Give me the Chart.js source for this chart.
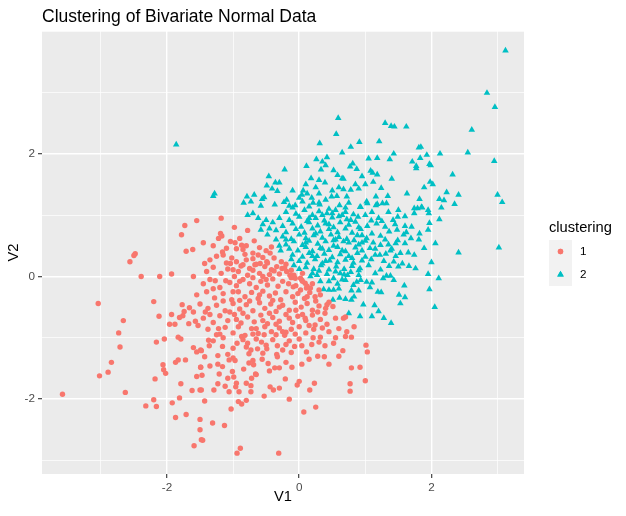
<!DOCTYPE html>
<html>
<head>
<meta charset="utf-8">
<script src="https://cdn.jsdelivr.net/npm/chart.js@4.4.1/dist/chart.umd.min.js"></script>
<style>
html, body { margin: 0; padding: 0; background: #fff; }
canvas { display: block; }
</style>
</head>
<body>
<canvas id="canvas" width="626" height="516"></canvas>
<script>
var chartTitle = "Clustering of Bivariate Normal Data";
var xTitle = "V1";
var yTitle = "V2";
var legendTitle = "clustering";
var clusterNames = ["1", "2"];
var clusterColors = ["#F8766D", "#00BFC4"];
var xTickLabels = [-2, 0, 2];
var yTickLabels = [-2, 0, 2];

// cluster 1 (V1, V2)
var cluster1 = [
	[-1.55,0.91],[-1.73,0.83],[-1.78,0.68],[-1.61,0.44],[-1.71,0.41],[-2.48,0.37],[-2.50,0.34],[-2.56,0.24],
	[-2.39,0.0],[-2.11,0.0],[-1.93,0.04],[-1.60,0.0],[-3.04,-0.44],[-2.20,-0.41],[-2.66,-0.72],[-2.12,-0.65],
	[-1.77,-0.46],[-1.66,-0.51],[-1.74,-0.57],[-1.60,-0.58],[-1.93,-0.62],[-1.76,-0.64],[-1.81,-0.67],[-1.96,-0.78],
	[-1.88,-0.78],[-1.67,-0.77],[-1.57,-0.73],[-1.53,-0.80],
	[-2.73,-0.92],[-2.71,-1.15],[-2.16,-1.07],[-2.04,-1.02],[-1.83,-0.99],[-1.79,-1.02],[-1.60,-1.16],[-1.55,-1.23],
	[-1.49,-1.20],[-2.84,-1.40],[-2.89,-1.56],[-3.02,-1.62],[-3.58,-1.92],[-2.63,-1.89],[-2.06,-1.44],[-2.05,-1.52],
	[-2.02,-1.58],[-2.18,-1.67],[-1.87,-1.40],[-1.83,-1.36],[-1.72,-1.36],[-1.79,-1.75],[-1.55,-1.63],[-1.62,-1.86],
	[-1.50,-1.85],[-1.49,-1.48],[-1.81,-1.98],[-1.92,-2.06],[-2.20,-2.01],[-2.32,-2.11],[-2.16,-2.12],[-1.87,-2.30],
	[-1.71,-2.25],[-1.50,-2.33],[-1.50,-2.50],[-1.59,-2.76],[-1.48,-2.66],
	[-1.43,-2.03],[-1.03,-2.16],[-1.31,-2.39],[-1.13,-2.43],[-1.46,-2.67],[-0.89,-2.80],[-0.94,-2.88],[-0.31,-2.88],
	[0.07,-2.21],[0.25,-2.13],[-0.15,-2.00],[-0.53,-1.95],[-0.92,-2.04],[-0.87,-2.08],[-0.80,-2.02],[-1.48,-1.85],
	[-1.29,-1.85],[-1.06,-1.88],[-0.91,-1.88],[-0.73,-1.88],[-1.23,-1.75],[-1.12,-1.79],[-0.96,-1.80],[-0.80,-1.74],
	[-0.73,-1.78],[-0.95,-1.74],[-1.08,-1.66],[-0.99,-1.64],[-0.72,-1.66],[-0.66,-1.59],[-0.44,-1.80],[-0.39,-1.85],
	[-0.30,-1.82],[-0.21,-1.67],[-0.03,-1.77],[0.0,-1.71],[0.16,-1.85],[0.23,-1.74],[0.77,-1.75],[0.77,-1.87],
	[1.00,-1.70],[0.79,-1.49],[0.92,-1.48],[0.45,-1.43],[0.04,-1.43],[-0.11,-1.48],[-0.30,-1.49],[-0.37,-1.49],
	[-0.45,-1.54],[-0.56,-1.35],[-0.47,-1.42],[-0.84,-1.51],[-1.01,-1.55],[-1.21,-1.59],[-1.47,-1.61],[-1.49,-1.48],
	[-1.35,-1.46],[-1.23,-1.43],[-1.16,-1.47],[-0.97,-1.37],[-1.00,-1.33],[-1.06,-1.36],[-1.08,-1.27],[-0.76,-1.41],
	[-0.69,-1.44],[-0.70,-1.37],[-0.76,-1.26],[-0.73,-1.20],[-0.63,-1.18],[-0.49,-1.18],[-0.34,-1.27],[-0.33,-1.31],
	[-0.12,-1.24],[0.11,-1.23],[0.28,-1.30],[0.38,-1.31],[0.66,-1.21],[1.03,-1.23],[1.01,-1.12],[0.52,-1.09],
	[0.39,-1.13],[0.19,-1.11],[0.04,-1.13],[-0.07,-1.14],[-0.20,-1.11],[-0.33,-1.13],[-0.50,-1.12],[-0.57,-1.07],
	[-0.78,-1.09],[-0.94,-1.09],[-1.16,-1.14],[-1.36,-1.13],[-1.48,-1.21],[-1.43,-1.31],[-1.23,-1.29],[0.70,-0.98],
	[0.79,-0.99],[0.45,-0.90],[0.32,-0.99],[0.21,-1.00],[-0.06,-0.94],[-0.20,-0.91],[-0.35,-0.95],[-0.53,-0.95],
	[-0.70,-0.94],[-0.87,-0.98],[-1.20,-0.94],[-1.37,-1.04],
	[-1.18,0.95],[-1.19,0.70],[-1.17,0.66],[-1.04,0.57],[-0.97,0.55],[-0.90,0.62],[-0.87,0.51],[-0.85,0.44],
	[-0.70,0.38],[-0.62,0.35],[-0.44,0.38],[-1.16,0.40],[-1.15,0.35],[-1.35,0.27],[-1.43,0.21],[-1.40,0.08],
	[-1.27,-0.07],[-1.11,-0.07],[-1.04,0.21],[-1.00,0.11],[-0.85,0.19],[-0.80,0.27],[-0.75,0.13],[-0.67,0.19],
	[-0.59,0.21],[-0.49,0.24],[-0.42,0.11],[-0.34,0.16],[-0.26,0.13],[-0.19,0.08],[-0.14,0.02],[-0.06,-0.03],
	[0.02,-0.03],[0.09,-0.11],[0.17,-0.19],[0.12,-0.33],[0.02,-0.22],[-0.09,-0.17],
	[0.04,-0.06],[0.11,-0.19],[0.24,-0.33],[0.32,-0.30],[0.51,-0.49],[0.42,-0.46],[0.39,-0.60],[0.67,-0.68],
	[0.70,-0.66],[0.83,-0.82],[0.24,-0.79],[0.09,-0.68],
	[-1.25,0.33],[-1.02,0.30],[-0.95,0.24],[-0.82,0.36],[-0.70,0.29],[-0.55,0.31],[-0.48,0.22],[-0.38,0.30],
	[-0.27,0.24],[-0.20,0.20],[-1.10,0.22],[-0.65,0.20],
	[-1.30,0.15],[-1.18,0.05],[-1.08,0.12],[-0.92,0.08],[-0.88,0.17],[-0.78,0.02],[-0.70,0.10],[-0.60,0.05],
	[-0.52,0.16],[-0.45,0.03],[-0.38,0.09],[-0.30,0.04],[-0.22,0.14],[-0.12,0.10],[-0.08,0.02],[0.05,0.05],
	[-0.98,0.0],[-0.55,0.0],
	[-1.45,-0.12],[-1.35,-0.05],[-1.20,-0.18],[-1.05,-0.10],[-0.95,-0.15],[-0.85,-0.05],[-0.75,-0.12],[-0.65,-0.18],
	[-0.58,-0.08],[-0.48,-0.14],[-0.40,-0.04],[-0.32,-0.16],[-0.25,-0.08],[-0.16,-0.12],[-0.05,-0.15],[0.05,-0.08],
	[0.12,-0.16],[0.20,-0.12],[-0.70,-0.02],[-0.12,-0.02],
	[-1.55,-0.30],[-1.40,-0.25],[-1.28,-0.35],[-1.15,-0.28],[-1.02,-0.38],[-0.92,-0.25],[-0.82,-0.33],[-0.72,-0.26],
	[-0.62,-0.36],[-0.55,-0.24],[-0.45,-0.32],[-0.36,-0.27],[-0.28,-0.38],[-0.20,-0.25],[-0.10,-0.33],[-0.02,-0.28],
	[0.08,-0.36],[0.16,-0.26],[0.25,-0.40],[0.30,-0.22],[-0.90,-0.39],[-0.40,-0.39],
	[-1.50,-0.45],[-1.38,-0.52],[-1.25,-0.47],[-1.12,-0.56],[-1.00,-0.44],[-0.90,-0.53],[-0.80,-0.46],[-0.70,-0.56],
	[-0.60,-0.43],[-0.52,-0.52],[-0.43,-0.45],[-0.35,-0.57],[-0.25,-0.47],[-0.15,-0.55],[-0.06,-0.42],[0.03,-0.50],
	[0.12,-0.44],[0.20,-0.55],[0.30,-0.48],[0.40,-0.52],[-1.42,-0.58],[0.45,-0.42],
	[-1.45,-0.68],[-1.30,-0.75],[-1.20,-0.64],[-1.08,-0.72],[-0.98,-0.62],[-0.88,-0.76],[-0.78,-0.66],[-0.68,-0.74],
	[-0.58,-0.63],[-0.48,-0.77],[-0.40,-0.67],[-0.30,-0.73],[-0.20,-0.62],[-0.10,-0.75],[-0.02,-0.65],[0.10,-0.72],
	[0.20,-0.63],[0.32,-0.70],[0.42,-0.78],[0.55,-0.68],
	[-1.38,-0.86],[-1.25,-0.95],[-1.12,-0.83],[-1.00,-0.92],[-0.92,-0.82],[-0.82,-0.96],[-0.72,-0.85],[-0.62,-0.93],
	[-0.52,-0.82],[-0.42,-0.90],[-0.30,-0.84],[-0.22,-0.96],[-0.12,-0.86],[0.0,-0.82],[0.10,-0.92],[0.22,-0.86],
	[0.35,-0.84],[0.60,-0.85],[0.72,-0.90],
	[-1.30,-1.05],[-1.00,-1.17],[-0.85,-1.03],[-0.65,-1.02],[-0.40,-1.03],[-0.15,-1.05],[0.0,-1.02],[0.30,-1.07],
	[-0.95,0.45],[-0.80,0.50],[-0.60,0.47],[-0.68,0.58],[-1.30,0.50],[-1.10,0.46],[-0.50,0.42],[-0.42,0.48],
	[-1.22,0.62],[-0.78,0.75],[-1.45,0.55],[-0.98,0.80],
	[-1.35,-0.62],[-1.22,-0.85],[-1.15,-0.40],[-1.05,-0.58],[-0.95,-0.70],[-0.85,-0.60],[-0.75,-0.40],[-0.65,-0.85],
	[-0.55,-0.72],[-0.45,-0.60],[-0.35,-0.78],[-0.25,-0.90],[-0.15,-0.68],[-0.05,-0.55],[0.05,-0.62],[0.15,-0.80],
	[0.28,-0.58],[-0.60,-0.30],[-0.50,-0.05],[-0.90,-0.08],[-1.30,-0.20],[-1.00,-0.25],[-0.30,-0.50],[-0.80,-1.15],
	[-0.55,-1.25],[-0.25,-1.20],[0.15,-1.35],[-1.15,-1.00],[-0.65,-1.60],[-0.20,-1.40],[0.55,-1.00],[0.60,-1.30]
];

// cluster 2 (V1, V2)
var cluster2 = [
	[-1.86,2.15],[-1.28,1.35],[-1.30,1.31],[0.59,2.58],[0.56,2.32],[0.31,2.17],[0.42,1.94],[0.26,1.91],
	[0.35,1.87],[0.40,1.81],[0.11,1.80],[0.33,1.74],[0.52,1.73],[-0.22,1.74],[-0.46,1.63],[0.58,1.65],
	[0.30,1.57],[0.39,1.53],[-0.36,1.53],[-0.30,1.53],[-0.49,1.48],[-0.41,1.43],[-0.33,1.39],[0.06,1.40],
	[0.04,1.33],[0.00,1.28],[-0.68,1.33],[-0.79,1.30],[-0.53,1.29],[-0.56,1.26],[-0.84,1.20],[-0.73,1.22],
	[-0.19,1.25],[-0.23,1.21],[-0.37,1.17],[-0.58,1.15],[0.19,1.28],[0.21,1.20],[0.31,1.17],[0.49,1.30],
	[0.57,1.31],[-0.06,1.16],[-0.15,1.15],
	[1.30,2.50],[1.39,2.45],[1.44,2.44],[1.62,2.44],[2.96,2.76],[2.61,2.39],[0.91,2.19],[0.78,2.11],
	[1.21,2.20],[0.65,2.02],[1.81,2.10],[1.84,2.11],[1.43,2.00],[1.93,1.98],[2.13,2.00],[2.55,2.02],
	[2.95,1.88],[1.05,1.92],[1.18,1.93],[1.37,1.91],[1.71,1.87],[1.83,1.93],[1.77,1.80],[1.77,1.76],
	[1.97,1.83],[1.99,1.81],[0.81,1.84],[0.77,1.79],[0.87,1.75],[1.08,1.72],[1.11,1.69],[1.18,1.66],
	[0.95,1.63],[0.67,1.59],[1.40,1.59],[1.12,1.54],[1.00,1.50],[1.24,1.44],[1.98,1.54],[2.02,1.50],
	[2.32,1.66],[1.89,1.45],[2.23,1.37],[2.41,1.33],[1.63,1.35],[1.82,1.26],[2.12,1.26],[2.19,1.24],
	[2.35,1.18],[3.00,1.33],[3.07,1.21],[0.67,1.42],[0.78,1.41],[0.90,1.43],[1.16,1.30],[1.34,1.31],
	[1.02,1.22],[1.32,1.19],[0.92,1.13],[1.18,1.18],[1.74,1.11],[1.86,1.12],[2.15,1.12],
	[3.12,3.68],[2.84,2.99],
	[3.02,0.47],[2.41,0.39],[2.06,0.54],[1.89,0.46],[2.00,0.23],[1.95,0.04],[2.11,-0.03],[1.97,-0.21],
	[2.05,-0.50],[1.39,-0.76],[1.28,-0.68],[1.10,-0.65],[1.20,-0.57],[1.14,-0.47],[0.92,-0.65],[0.75,-0.60],
	[0.97,-0.46],[0.79,-0.38],[0.83,-0.33],[0.70,-0.37],[0.61,-0.35],[0.51,-0.38],[0.52,-0.22],[0.45,-0.22],
	[0.37,-0.21],[0.79,-0.23],[0.90,-0.23],[1.19,-0.25],[1.24,-0.26],[1.51,-0.30],[1.60,-0.34],[1.53,-0.44],
	[1.59,-0.15],[1.07,-0.18],[1.02,-0.09],[0.93,-0.06],[0.87,-0.09],[1.43,-0.06],[1.27,-0.03],[1.38,0.01],
	[1.32,0.01],[1.23,0.11],[1.36,0.17],[1.50,0.16],[1.66,0.17],[1.76,0.13],[1.56,0.21],[1.43,0.24],
	[1.28,0.25],[1.09,0.28],[1.22,0.35],[1.31,0.37],[1.46,0.33],[1.53,0.38],[1.65,0.39],[1.74,0.35],
	[1.07,0.46],[1.23,0.51],[1.46,0.54],[1.60,0.54],[1.49,0.59],[1.69,0.62],[1.81,0.60],[1.82,0.70],
	[1.95,0.76],[1.70,0.81],[1.97,0.87],[2.12,0.93],[1.96,1.03],[1.95,1.08],[1.49,0.97],[1.36,0.73],
	[1.23,0.66],[1.30,0.81],[1.10,0.70],[0.95,0.67],[0.83,0.59],[0.67,0.57],[0.52,0.59],[1.09,0.91],
	[1.17,0.86],[1.03,0.82],[0.93,0.77],[0.89,0.97],[0.78,0.92],[0.65,1.00],[0.50,1.03],[0.93,1.13],
	[1.03,1.19],[1.16,1.16],[1.26,1.19],[0.61,1.16],[1.74,1.03],[1.79,1.11],[1.85,1.13],[0.27,0.02],
	[0.32,-0.08],[0.17,0.0],[0.52,-0.03],[0.65,-0.05],[0.62,0.05],[0.73,0.02],
	[-0.20,1.05],[-0.05,1.02],[0.08,1.08],[0.20,1.00],[0.30,1.06],[0.42,1.03],[0.55,1.08],[0.70,1.05],
	[0.82,1.01],[1.35,1.05],[1.50,1.08],
	[-0.30,0.95],[-0.15,0.92],[0.0,0.97],[0.12,0.90],[0.25,0.95],[0.38,0.91],[0.50,0.96],[0.72,0.93],
	[1.20,0.95],[1.42,0.92],[1.60,0.98],
	[-0.25,0.82],[-0.10,0.86],[0.03,0.81],[0.15,0.88],[0.28,0.83],[0.40,0.86],[0.52,0.80],[0.62,0.88],
	[0.75,0.84],[0.85,0.89],[1.45,0.85],[1.60,0.82],
	[-0.35,0.75],[-0.20,0.72],[-0.05,0.77],[0.08,0.71],[0.20,0.78],[0.32,0.73],[0.45,0.77],[0.58,0.72],
	[0.70,0.78],[0.80,0.71],[1.48,0.76],[1.62,0.72],
	[-0.25,0.65],[-0.12,0.61],[0.0,0.68],[0.10,0.62],[0.22,0.67],[0.35,0.63],[0.48,0.68],[0.60,0.64],
	[0.72,0.61],[0.88,0.67],[1.02,0.62],[1.58,0.68],
	[-0.20,0.52],[-0.08,0.57],[0.05,0.51],[0.15,0.58],[0.28,0.53],[0.40,0.57],[0.52,0.50],[0.75,0.55],
	[0.90,0.52],[1.00,0.58],[1.12,0.55],[1.35,0.52],
	[-0.15,0.45],[-0.02,0.42],[0.10,0.48],[0.20,0.41],[0.32,0.46],[0.45,0.43],[0.58,0.48],[0.70,0.41],
	[0.85,0.47],[0.95,0.42],[1.15,0.45],[1.38,0.42],
	[-0.10,0.35],[0.05,0.32],[0.15,0.38],[0.27,0.33],[0.38,0.37],[0.50,0.31],[0.62,0.36],[0.75,0.33],
	[0.88,0.38],[1.00,0.32],
	[0.0,0.25],[0.12,0.22],[0.24,0.28],[0.35,0.21],[0.46,0.26],[0.58,0.23],[0.70,0.27],[0.82,0.22],[0.95,0.26],
	[0.10,0.15],[0.22,0.12],[0.33,0.18],[0.45,0.11],[0.56,0.16],[0.68,0.12],[0.80,0.17],[0.92,0.13],[1.05,0.18],
	[0.20,0.05],[0.30,0.09],[0.42,0.04],[0.55,0.08],[0.68,0.03],[0.78,0.07],[0.90,0.02],
	[0.45,-0.08],[0.58,-0.12],[0.70,-0.06],[0.82,-0.14],[1.10,-0.10],
	[-0.10,1.12],[0.15,1.14],[0.30,1.20],[0.45,1.10],[0.70,1.12],[0.12,1.35],[0.25,1.45],[0.18,1.60],
	[0.72,1.30],[0.50,1.40],[0.85,1.50],[0.65,1.60],[0.10,1.50],
	[-0.78,1.00],[-0.70,1.03],[-0.62,0.95],[-0.55,0.85],[-0.50,0.92],[-0.45,0.78],[-0.40,0.88],[-0.58,0.76],
	[-0.48,0.68],[-0.35,0.60],[-0.30,0.50],[-0.28,0.42],[-0.12,0.28],[-0.08,0.18],[0.0,0.12],
	[0.15,0.95],[0.35,1.00],[0.60,0.98],[0.45,0.85],[0.25,0.70],[0.55,0.60],[0.10,0.55],[0.35,0.45],
	[0.65,0.42],[0.80,0.30],[0.40,0.25],[0.20,0.33],[0.90,0.80],[1.00,1.00],[0.05,1.22],[0.40,1.25],
	[0.60,1.45],[0.30,1.35],[-0.10,1.40],[-0.20,0.60],[1.15,0.35],[1.30,0.60],[1.40,0.45],[0.90,0.10],
	[1.15,0.05],[0.60,-0.20],[0.95,0.55],[0.75,1.20],[1.10,1.05],[1.25,0.90]
];

function toPoints(list){
	var pts = [];
	for(var i = 0; i < list.length; i++){
		pts.push({x: list[i][0], y: list[i][1]});
	}
	return pts;
}

var fontFamily = "'Liberation Sans', Arial, Helvetica, sans-serif";

// grey panel behind the grid
var panelPlugin = {
	id: 'panel',
	beforeDraw: function(chart){
		var a = chart.chartArea;
		var ctx = chart.ctx;
		ctx.save();
		ctx.fillStyle = '#EBEBEB';
		ctx.fillRect(a.left, a.top, a.right - a.left, a.bottom - a.top);
		ctx.restore();
	}
};

// title lined up with the panel, and a ggplot style legend on the right
var textPlugin = {
	id: 'ggText',
	afterDraw: function(chart){
		var ctx = chart.ctx;
		ctx.save();
		ctx.fillStyle = '#000';
		ctx.textAlign = 'left';
		ctx.textBaseline = 'alphabetic';
		ctx.font = '17.5px ' + fontFamily;
		ctx.fillText(chartTitle, chart.chartArea.left, 21.5);

		var x0 = chart.chartArea.right + 25;
		var keyTop = 240;
		var keySize = 23;
		ctx.font = '14.7px ' + fontFamily;
		ctx.fillText(legendTitle, x0, 232);
		for(var i = 0; i < chart.data.datasets.length; i++){
			var ds = chart.data.datasets[i];
			var ky = keyTop + i * keySize;
			ctx.fillStyle = '#F2F2F2';
			ctx.fillRect(x0, ky, keySize, keySize);
			ctx.fillStyle = ds.backgroundColor;
			Chart.helpers.drawPoint(ctx, {pointStyle: ds.pointStyle, radius: ds.pointRadius, rotation: 0, borderWidth: 0}, x0 + keySize / 2, ky + keySize / 2);
			ctx.fill();
			ctx.fillStyle = '#000';
			ctx.font = '11.7px ' + fontFamily;
			ctx.textBaseline = 'middle';
			ctx.fillText(ds.label, x0 + keySize + 8, ky + keySize / 2 + 0.5);
		}
		ctx.restore();
	}
};

function isMajor(list, v){
	return list.indexOf(v) >= 0;
}

function axisOptions(tickList, min, max, title){
	return {
		type: 'linear',
		min: min,
		max: max,
		border: {display: false},
		grid: {
			color: '#FFFFFF',
			lineWidth: function(c){ return (c.tick && isMajor(tickList, c.tick.value)) ? 1.4 : 0.7; },
			drawTicks: true,
			tickLength: 4,
			tickWidth: 1.1,
			tickColor: function(c){ return (c.tick && isMajor(tickList, c.tick.value)) ? '#333333' : 'rgba(0,0,0,0)'; }
		},
		ticks: {
			stepSize: 1,
			includeBounds: false,
			autoSkip: false,
			maxRotation: 0,
			padding: 3,
			color: '#4D4D4D',
			font: {family: fontFamily, size: 11.7},
			callback: function(v){ return isMajor(tickList, v) ? String(v) : ''; }
		},
		title: {
			display: true,
			text: title,
			color: '#000',
			padding: 0,
			font: {family: fontFamily, size: 14.7, lineHeight: '2px'}
		}
	};
}

var xOpts = axisOptions(xTickLabels, -3.89, 3.40, xTitle);
xOpts.afterFit = function(scale){ scale.height = 24; };
var yOpts = axisOptions(yTickLabels, -3.22, 4.0, yTitle);
yOpts.afterFit = function(scale){ scale.width = 29; };

var canvas = document.getElementById("canvas");
var ctx = canvas.getContext("2d");
var chart = new Chart(ctx, {
	type: 'scatter',
	data: {
		datasets: [
			{
				label: clusterNames[0],
				data: toPoints(cluster1),
				backgroundColor: clusterColors[0],
				borderWidth: 0,
				pointStyle: 'circle',
				pointRadius: 2.7,
				pointHoverRadius: 2.7
			},
			{
				label: clusterNames[1],
				data: toPoints(cluster2),
				backgroundColor: clusterColors[1],
				borderWidth: 0,
				pointStyle: 'triangle',
				pointRadius: 3.8,
				pointHoverRadius: 3.8
			}
		]
	},
	options: {
		responsive: false,
		animation: false,
		devicePixelRatio: 1,
		layout: {padding: {left: 13, right: 102, top: 31, bottom: 18}},
		plugins: {
			legend: {display: false},
			tooltip: {enabled: false},
			title: {display: false}
		},
		scales: {
			x: xOpts,
			y: yOpts
		}
	},
	plugins: [panelPlugin, textPlugin]
});
</script>
</body>
</html>
